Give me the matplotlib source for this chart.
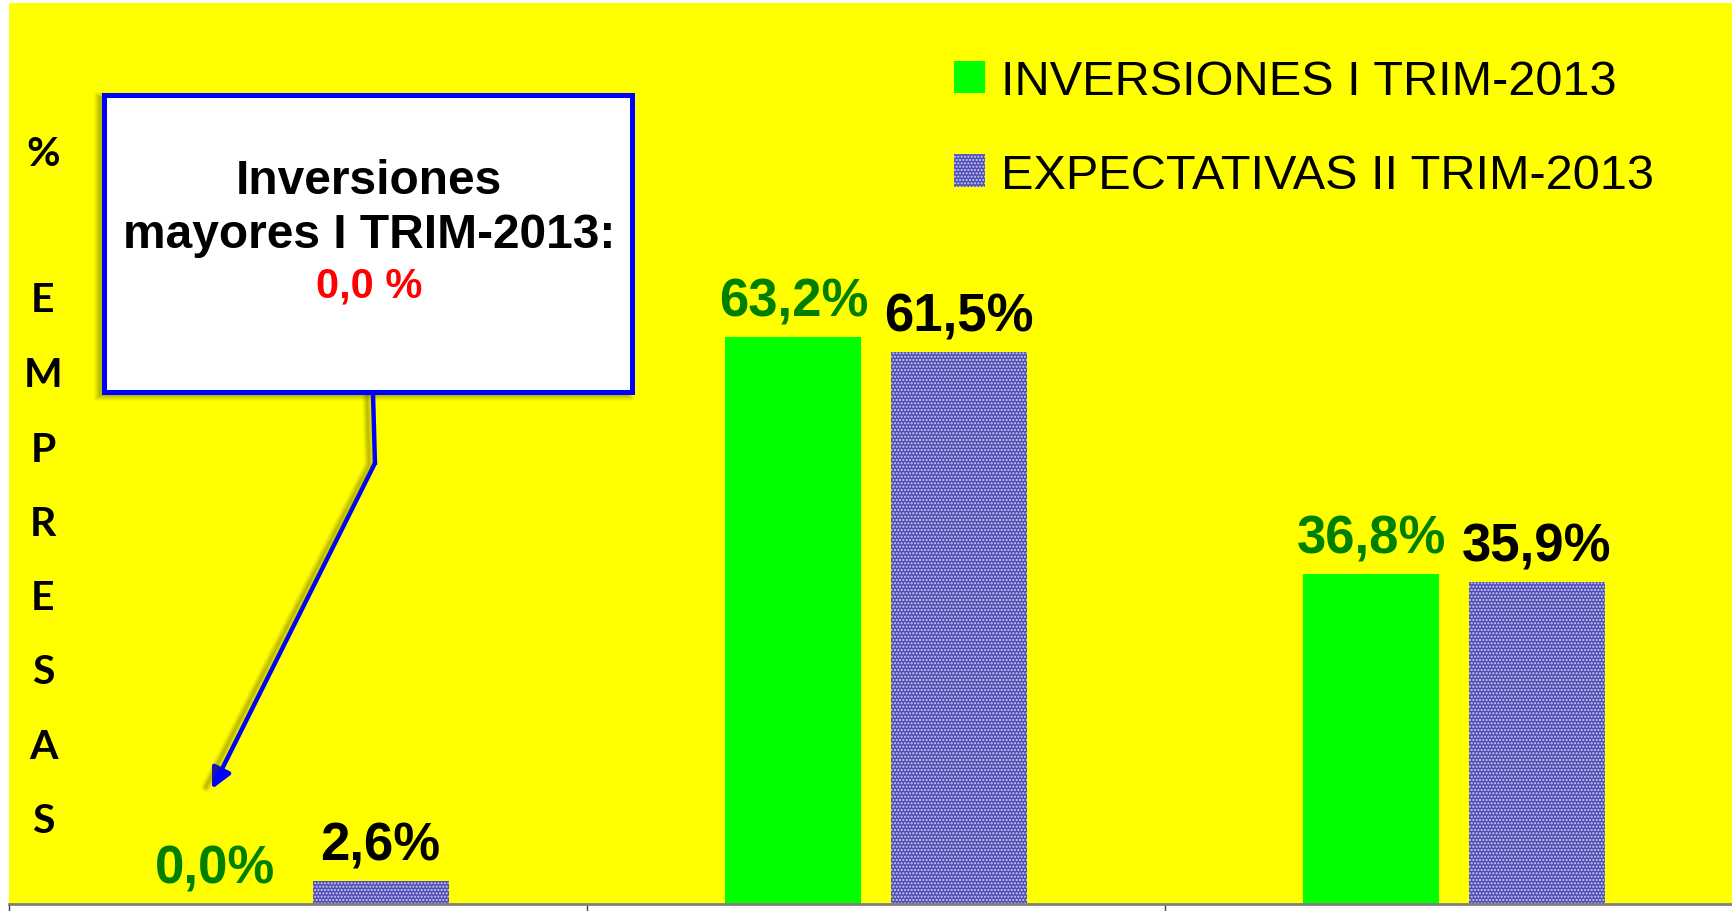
import numpy as np
import matplotlib
matplotlib.use('Agg')
import matplotlib.pyplot as plt
from matplotlib.patches import Rectangle
from matplotlib.lines import Line2D

# Data
categories = ['A', 'B', 'C']
inversiones = [0.0, 63.2, 36.8]
expectativas = [2.6, 61.5, 35.9]
lbl_inv = ['0,0%', '63,2%', '36,8%']
lbl_exp = ['2,6%', '61,5%', '35,9%']
series_names = ['INVERSIONES I TRIM-2013', 'EXPECTATIVAS II TRIM-2013']
box_lines = ['Inversiones', 'mayores I TRIM-2013:', '0,0 %']
ylabel_chars = ['%', 'E', 'M', 'P', 'R', 'E', 'S', 'A', 'S']

W, H = 1732, 912
plt.rcParams['hatch.linewidth'] = 1.0

def fx(px):
    return px / W

def fy(py):
    # pixel measured from the top -> figure fraction
    return 1 - py / H

fig = plt.figure(figsize=(W / 100, H / 100), dpi=100)
fig.patch.set_facecolor('white')

ax = fig.add_axes([fx(9), fy(905), 1734 / W, 901 / H])
ax.set_facecolor('#FFFF00')
x = np.arange(len(categories))
width = 0.235
off = 0.143
b1 = ax.bar(x - off, inversiones, width, color='#00FF00', label=series_names[0])
b2 = ax.bar(x + off, expectativas, width, color='#4E4EB6', hatch='.....',
            edgecolor='#D0D0F0', linewidth=0, label=series_names[1])
ax.set_xlim(-0.5, 2.5)
ax.set_ylim(0, 100.4)

for s in ['top', 'right', 'left']:
    ax.spines[s].set_visible(False)
ax.spines['bottom'].set_color('#808080')
ax.spines['bottom'].set_linewidth(2)
ax.set_yticks([])
ax.set_xticks([-0.5, 0.5, 1.5, 2.5])
ax.set_xticklabels([])
ax.tick_params(axis='x', direction='out', length=6, width=1, color='#404040')

# value labels
for i in range(len(categories)):
    ax.annotate(lbl_inv[i], (x[i] - off, inversiones[i]), xytext=(0, 25.5),
                textcoords='offset points', ha='center', va='center',
                fontsize=38, fontweight='bold', color='#008000',
                family='Liberation Sans')
    ax.annotate(lbl_exp[i], (x[i] + off, expectativas[i]), xytext=(0, 25.5),
                textcoords='offset points', ha='center', va='center',
                fontsize=38, fontweight='bold', color='black',
                family='Liberation Sans')

# legend
ax.legend(handles=[b1, b2], loc='upper left', bbox_to_anchor=(fx(954), fy(60)),
          bbox_transform=fig.transFigure, frameon=False,
          prop={'family': 'Liberation Sans', 'size': 35},
          handlelength=0.64, handleheight=0.64, handletextpad=0.33,
          labelspacing=1.0, borderpad=0, borderaxespad=0)

# vertical axis title, letter by letter
ys = [154, 301, 376, 450, 524, 599, 673, 748, 822]
for ch, yy in zip(ylabel_chars, ys):
    fig.text(fx(43), fy(yy), ch, ha='center', va='center', fontsize=29.5,
             fontweight='bold', family='Lato')

# callout shadow (soft, shifted left/down)
for k, a in zip(range(6, 0, -1), [0.05, 0.06, 0.07, 0.08, 0.09, 0.10]):
    fig.patches.append(Rectangle((fx(104 - 4 - k), fy(393 + 3 + k)),
                                 (528 + 2 * k) / W, (297 + 2 * k) / H,
                                 transform=fig.transFigure, facecolor='#505000',
                                 edgecolor='none', alpha=a, zorder=4))
    fig.lines.append(Line2D([fx(373 - 6), fx(375 - 6), fx(212 - 6)],
                            [fy(393), fy(466), fy(788)],
                            transform=fig.transFigure, color='#505000',
                            lw=k * 1.2, alpha=a, zorder=4,
                            solid_capstyle='round'))

# callout box
fig.patches.append(Rectangle((fx(104), fy(393)), 528 / W, 297 / H,
                             transform=fig.transFigure, facecolor='white',
                             edgecolor='#0000FF', linewidth=3.6, zorder=5))
fig.text(fx(369), fy(182), box_lines[0], ha='center', va='center', fontsize=34.5,
         fontweight='bold', family='Liberation Sans', zorder=6)
fig.text(fx(369), fy(235), box_lines[1], ha='center', va='center', fontsize=34.5,
         fontweight='bold', family='Liberation Sans', zorder=6)
fig.text(fx(369), fy(286), box_lines[2], ha='center', va='center', fontsize=30,
         fontweight='bold', family='Liberation Sans', color='#FF0000', zorder=6)

# callout connector with arrow
fig.lines.append(Line2D([fx(373), fx(375)], [fy(395), fy(466)],
                        transform=fig.transFigure, color='#0000FF', lw=3.2,
                        zorder=6, solid_capstyle='butt'))
ax.annotate('', xy=(fx(212), fy(790)), xycoords='figure fraction',
            xytext=(fx(375), fy(464)), textcoords='figure fraction',
            arrowprops=dict(arrowstyle='-|>', color='#0000FF', lw=3.2,
                            mutation_scale=30, shrinkA=0, shrinkB=0),
            zorder=6)

fig.savefig('out.png', dpi=100, facecolor=fig.get_facecolor())
